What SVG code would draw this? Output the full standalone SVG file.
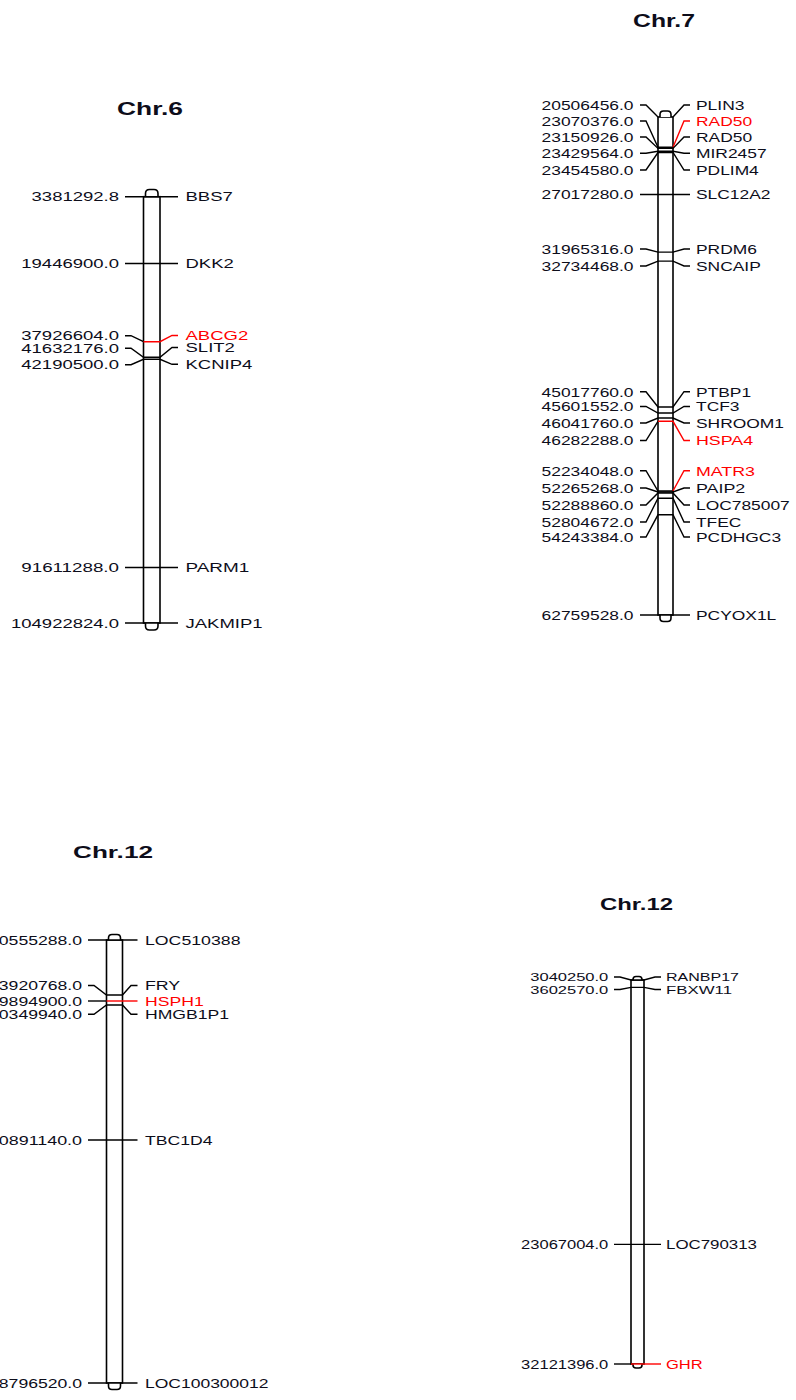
<svg xmlns="http://www.w3.org/2000/svg" width="796" height="1400" viewBox="0 0 796 1400">
<style>
.bg{fill:#fff}
.bar{fill:#fff;stroke:#000;stroke-width:1.6}
.t{fill:none;stroke:#000;stroke-width:1.4}
.r{fill:none;stroke:#f00;stroke-width:1.4}
.l{font-family:"Liberation Sans",Arial,sans-serif;font-size:12.5px;fill:#0d0d1a}
.l7{font-family:"Liberation Sans",Arial,sans-serif;font-size:13.5px;fill:#0d0d1a}
.s{font-size:11px}
.red{fill:#f00}
.ti{font-family:"Liberation Sans",Arial,sans-serif;font-weight:bold;fill:#0d0d1a}
</style>
<rect class="bg" x="0" y="0" width="796" height="1400"/>

<!-- Chr.6 -->
<g id="chr6">
<text class="ti" x="117" y="114.5" font-size="18" textLength="66" lengthAdjust="spacingAndGlyphs">Chr.6</text>
<rect class="bar" x="143.5" y="196.7" width="16.5" height="426.3"/>
<path class="bar" d="M145.5 196.7 V193.5 Q145.5 189.5 149.5 189.5 H154 Q158 189.5 158 193.5 V196.7"/>
<path class="bar" d="M145.5 623 V626 Q145.5 630 149.5 630 H154 Q158 630 158 626 V623"/>
<g class="l">
<text x="31.6" y="201.2" textLength="87.4" lengthAdjust="spacingAndGlyphs">3381292.8</text>
<text x="21.3" y="268" textLength="97.7" lengthAdjust="spacingAndGlyphs">19446900.0</text>
<text x="21.3" y="340.2" textLength="97.7" lengthAdjust="spacingAndGlyphs">37926604.0</text>
<text x="21.3" y="352.8" textLength="97.7" lengthAdjust="spacingAndGlyphs">41632176.0</text>
<text x="21.3" y="369.2" textLength="97.7" lengthAdjust="spacingAndGlyphs">42190500.0</text>
<text x="21.3" y="572" textLength="97.7" lengthAdjust="spacingAndGlyphs">91611288.0</text>
<text x="11" y="627.5" textLength="108" lengthAdjust="spacingAndGlyphs">104922824.0</text>
<text x="185.5" y="201.2" textLength="47.3" lengthAdjust="spacingAndGlyphs">BBS7</text>
<text x="185.5" y="268" textLength="48.3" lengthAdjust="spacingAndGlyphs">DKK2</text>
<text class="red" x="185.5" y="339.8" textLength="62.7" lengthAdjust="spacingAndGlyphs">ABCG2</text>
<text x="185.5" y="352" textLength="49.4" lengthAdjust="spacingAndGlyphs">SLIT2</text>
<text x="185.5" y="368.7" textLength="66.8" lengthAdjust="spacingAndGlyphs">KCNIP4</text>
<text x="185.5" y="572" textLength="63.7" lengthAdjust="spacingAndGlyphs">PARM1</text>
<text x="185.5" y="627.5" textLength="77.1" lengthAdjust="spacingAndGlyphs">JAKMIP1</text>
</g>
</g>

<!-- Chr.7 -->
<g id="chr7">
<text class="ti" x="633" y="26.5" font-size="18" textLength="62" lengthAdjust="spacingAndGlyphs">Chr.7</text>
<rect class="bar" x="658" y="117" width="15" height="498"/>
<path class="bar" d="M660 117 V114.5 Q660 111 663.5 111 H667.5 Q671 111 671 114.5 V117"/>
<path class="bar" d="M660 615 V618 Q660 621.5 663.5 621.5 H667.5 Q671 621.5 671 618 V615"/>
<g class="l7">
<text x="541.6" y="109.9" textLength="91.9" lengthAdjust="spacingAndGlyphs">20506456.0</text>
<text x="541.6" y="125.9" textLength="91.9" lengthAdjust="spacingAndGlyphs">23070376.0</text>
<text x="541.6" y="141.9" textLength="91.9" lengthAdjust="spacingAndGlyphs">23150926.0</text>
<text x="541.6" y="158.2" textLength="91.9" lengthAdjust="spacingAndGlyphs">23429564.0</text>
<text x="541.6" y="174.9" textLength="91.9" lengthAdjust="spacingAndGlyphs">23454580.0</text>
<text x="541.6" y="199.4" textLength="91.9" lengthAdjust="spacingAndGlyphs">27017280.0</text>
<text x="541.6" y="253.9" textLength="91.9" lengthAdjust="spacingAndGlyphs">31965316.0</text>
<text x="541.6" y="270.9" textLength="91.9" lengthAdjust="spacingAndGlyphs">32734468.0</text>
<text x="541.6" y="396.6" textLength="91.9" lengthAdjust="spacingAndGlyphs">45017760.0</text>
<text x="541.6" y="411.4" textLength="91.9" lengthAdjust="spacingAndGlyphs">45601552.0</text>
<text x="541.6" y="427.9" textLength="91.9" lengthAdjust="spacingAndGlyphs">46041760.0</text>
<text x="541.6" y="445.4" textLength="91.9" lengthAdjust="spacingAndGlyphs">46282288.0</text>
<text x="541.6" y="475.6" textLength="91.9" lengthAdjust="spacingAndGlyphs">52234048.0</text>
<text x="541.6" y="492.9" textLength="91.9" lengthAdjust="spacingAndGlyphs">52265268.0</text>
<text x="541.6" y="509.9" textLength="91.9" lengthAdjust="spacingAndGlyphs">52288860.0</text>
<text x="541.6" y="526.9" textLength="91.9" lengthAdjust="spacingAndGlyphs">52804672.0</text>
<text x="541.6" y="541.9" textLength="91.9" lengthAdjust="spacingAndGlyphs">54243384.0</text>
<text x="541.6" y="619.9" textLength="91.9" lengthAdjust="spacingAndGlyphs">62759528.0</text>
<text x="696" y="109.9" textLength="48.4" lengthAdjust="spacingAndGlyphs">PLIN3</text>
<text class="red" x="696" y="125.9" textLength="56.1" lengthAdjust="spacingAndGlyphs">RAD50</text>
<text x="696" y="141.9" textLength="56.1" lengthAdjust="spacingAndGlyphs">RAD50</text>
<text x="696" y="158.2" textLength="70.6" lengthAdjust="spacingAndGlyphs">MIR2457</text>
<text x="696" y="174.9" textLength="62.8" lengthAdjust="spacingAndGlyphs">PDLIM4</text>
<text x="696" y="199.4" textLength="74.5" lengthAdjust="spacingAndGlyphs">SLC12A2</text>
<text x="696" y="253.9" textLength="60.9" lengthAdjust="spacingAndGlyphs">PRDM6</text>
<text x="696" y="270.9" textLength="64.8" lengthAdjust="spacingAndGlyphs">SNCAIP</text>
<text x="696" y="396.6" textLength="55.1" lengthAdjust="spacingAndGlyphs">PTBP1</text>
<text x="696" y="411.4" textLength="43.5" lengthAdjust="spacingAndGlyphs">TCF3</text>
<text x="696" y="427.9" textLength="88" lengthAdjust="spacingAndGlyphs">SHROOM1</text>
<text class="red" x="696" y="445.4" textLength="57.1" lengthAdjust="spacingAndGlyphs">HSPA4</text>
<text class="red" x="696" y="475.6" textLength="59" lengthAdjust="spacingAndGlyphs">MATR3</text>
<text x="696" y="492.9" textLength="49.3" lengthAdjust="spacingAndGlyphs">PAIP2</text>
<text x="696" y="509.9" textLength="93.8" lengthAdjust="spacingAndGlyphs">LOC785007</text>
<text x="696" y="526.9" textLength="45.4" lengthAdjust="spacingAndGlyphs">TFEC</text>
<text x="696" y="541.9" textLength="85.1" lengthAdjust="spacingAndGlyphs">PCDHGC3</text>
<text x="696" y="619.9" textLength="80.3" lengthAdjust="spacingAndGlyphs">PCYOX1L</text>
</g>
</g>

<!-- Chr.12 (left) -->
<g id="chr12a">
<text class="ti" x="73" y="858" font-size="17" textLength="80" lengthAdjust="spacingAndGlyphs">Chr.12</text>
<rect class="bar" x="106.5" y="940" width="16" height="443"/>
<path class="bar" d="M108.5 940 V938 Q108.5 934.5 112 934.5 H117 Q120.5 934.5 120.5 938 V940"/>
<path class="bar" d="M108.5 1383 V1386 Q108.5 1389.5 112 1389.5 H117 Q120.5 1389.5 120.5 1386 V1383"/>
<g class="l">
<text x="-1.2" y="944.5" textLength="83.2" lengthAdjust="spacingAndGlyphs">0555288.0</text>
<text x="-1.2" y="990" textLength="83.2" lengthAdjust="spacingAndGlyphs">3920768.0</text>
<text x="-1.2" y="1005.5" textLength="83.2" lengthAdjust="spacingAndGlyphs">9894900.0</text>
<text x="-1.2" y="1018.8" textLength="83.2" lengthAdjust="spacingAndGlyphs">0349940.0</text>
<text x="-1.2" y="1144.5" textLength="83.2" lengthAdjust="spacingAndGlyphs">0891140.0</text>
<text x="-1.2" y="1387.5" textLength="83.2" lengthAdjust="spacingAndGlyphs">8796520.0</text>
<text x="145" y="944.5" textLength="95.5" lengthAdjust="spacingAndGlyphs">LOC510388</text>
<text x="145" y="990" textLength="35.2" lengthAdjust="spacingAndGlyphs">FRY</text>
<text class="red" x="145" y="1005.5" textLength="58.7" lengthAdjust="spacingAndGlyphs">HSPH1</text>
<text x="145" y="1018.8" textLength="84.1" lengthAdjust="spacingAndGlyphs">HMGB1P1</text>
<text x="145" y="1144.5" textLength="67.5" lengthAdjust="spacingAndGlyphs">TBC1D4</text>
<text x="145" y="1387.5" textLength="123.5" lengthAdjust="spacingAndGlyphs">LOC100300012</text>
</g>
</g>

<!-- Chr.12 (right) -->
<g id="chr12b">
<text class="ti" x="600" y="910" font-size="16" textLength="73" lengthAdjust="spacingAndGlyphs">Chr.12</text>
<rect class="bar" x="631" y="980" width="13" height="384"/>
<path class="bar" d="M633 980 V979.5 Q633 976.5 636 976.5 H639 Q642 976.5 642 979.5 V980"/>
<path class="bar" d="M633 1364 V1365 Q633 1368 636 1368 H639 Q642 1368 642 1365 V1364"/>
<g class="l">
<text class="s" x="530.3" y="981" textLength="78" lengthAdjust="spacingAndGlyphs">3040250.0</text>
<text class="s" x="530.3" y="993.5" textLength="78" lengthAdjust="spacingAndGlyphs">3602570.0</text>
<text x="521.1" y="1248.9" textLength="87.2" lengthAdjust="spacingAndGlyphs">23067004.0</text>
<text x="521.1" y="1368.5" textLength="87.2" lengthAdjust="spacingAndGlyphs">32121396.0</text>
<text class="s" x="666" y="981" textLength="73" lengthAdjust="spacingAndGlyphs">RANBP17</text>
<text class="s" x="666" y="993.5" textLength="66" lengthAdjust="spacingAndGlyphs">FBXW11</text>
<text x="666" y="1248.9" textLength="91" lengthAdjust="spacingAndGlyphs">LOC790313</text>
<text class="red" x="666" y="1368.5" textLength="36.7" lengthAdjust="spacingAndGlyphs">GHR</text>
</g>
</g>

<g id="connectors">
<!-- Chr.6 -->
<path class="t" d="M125 196.7 H178"/>
<path class="t" d="M125 263.5 H178"/>
<path class="t" d="M125 335.7 H131 L143.5 341.7"/>
<path class="r" d="M143.5 341.7 H160 L172 335.5 H178"/>
<path class="t" d="M125 348.3 H131 L143.5 357.3 H160 L172 347.5 H178"/>
<path class="t" d="M125 364.7 H131 L143.5 359.3 H160 L172 364.3 H178"/>
<path class="t" d="M125 567.5 H178"/>
<path class="t" d="M125 623 H178"/>
<!-- Chr.7 -->
<path class="t" d="M640 105 H646 L658 117"/>
<path class="t" d="M673 117 L684 105 H690"/>
<path class="t" d="M640 121 H646 L658 147.2 H673"/>
<path class="r" d="M673 147.2 L684 121 H690"/>
<path class="t" d="M640 137 H646 L658 148.4 H673 L684 137 H690"/>
<path class="t" d="M640 153.3 H646 L658 151.2 H673 L684 153.3 H690"/>
<path class="t" d="M640 170 H646 L658 152.5 H673 L684 170 H690"/>
<path class="t" d="M640 194.5 H690"/>
<path class="t" d="M640 249 H646 L658 252.1 H673 L684 249 H690"/>
<path class="t" d="M640 266 H646 L658 261.1 H673 L684 266 H690"/>
<path class="t" d="M640 391.7 H646 L658 407 H673 L684 391.7 H690"/>
<path class="t" d="M640 406.5 H646 L658 413 H673 L684 406.5 H690"/>
<path class="t" d="M640 423 H646 L658 418 H673 L684 423 H690"/>
<path class="t" d="M640 440.5 H646 L658 421.3"/>
<path class="r" d="M658 421.3 H673 L684 440.5 H690"/>
<path class="t" d="M640 470.7 H646 L658 491 H673"/>
<path class="r" d="M673 491 L684 470.7 H690"/>
<path class="t" d="M640 488 H646 L658 492 H673 L684 488 H690"/>
<path class="t" d="M640 505 H646 L658 493 H673 L684 505 H690"/>
<path class="t" d="M640 522 H646 L658 498.3 H673 L684 522 H690"/>
<path class="t" d="M640 537 H646 L658 514.8 H673 L684 537 H690"/>
<path class="t" d="M640 615 H690"/>
<!-- Chr.12 left -->
<path class="t" d="M88 940 H137.5"/>
<path class="t" d="M88 985.5 H94 L106.5 995 H122.5 L131 985.5 H137.5"/>
<path class="t" d="M88 1001 H106.5"/>
<path class="r" d="M106.5 1001 H137.5"/>
<path class="t" d="M88 1014.3 H94 L106.5 1005 H122.5 L131 1014.3 H137.5"/>
<path class="t" d="M88 1140 H137.5"/>
<path class="t" d="M88 1383 H137.5"/>
<!-- Chr.12 right -->
<path class="t" d="M614 977 H620 L631 980 H644 L655 977 H661"/>
<path class="t" d="M614 989.5 H620 L631 987.4 H644 L655 989.5 H661"/>
<path class="t" d="M614 1244.4 H661"/>
<path class="t" d="M614 1364 H631"/>
<path class="r" d="M631 1364 H661"/>
</g>
</svg>
